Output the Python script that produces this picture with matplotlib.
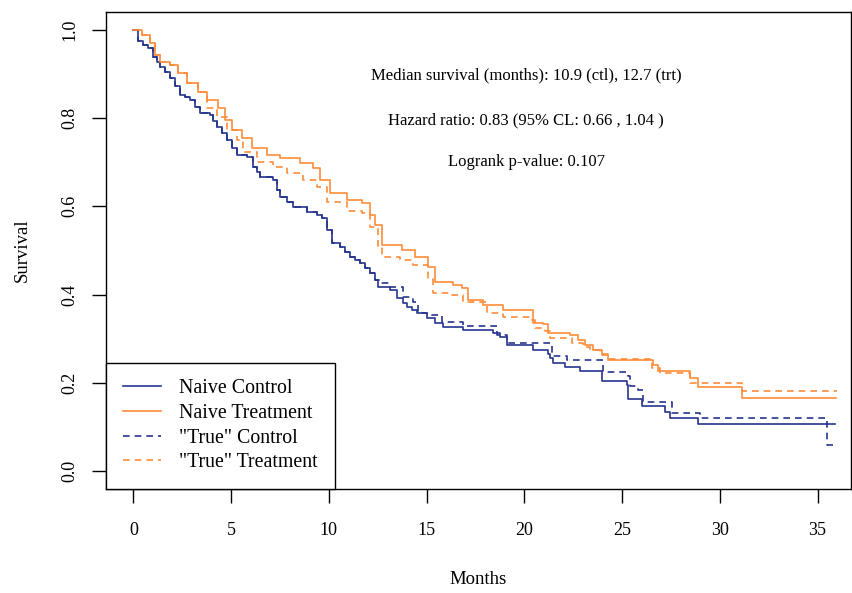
import matplotlib
matplotlib.use("Agg")
import matplotlib.pyplot as plt

# ---- data (months, survival after each drop) ----
nc_t = [0.24, 0.50, 0.75, 1.00, 1.21, 1.37, 1.62, 1.88, 2.13, 2.39, 2.64, 2.90, 3.16, 3.41,
        3.92, 4.08, 4.28, 4.54, 4.79, 5.05, 5.30, 5.82, 6.12, 6.33, 6.48, 7.15, 7.35, 7.50,
        7.86, 8.17, 8.89, 9.40, 9.65, 9.91, 10.16, 10.57, 10.83, 11.08, 11.34, 11.60, 11.85,
        12.11, 12.36, 12.52, 13.13, 13.49, 13.79, 14.00, 14.26, 14.51, 15.02, 15.43, 15.84,
        16.86, 18.40, 18.76, 19.11, 20.45, 21.21, 21.31, 21.47, 22.08, 22.85, 23.97, 25.25,
        25.30, 26.02, 27.20, 27.45, 28.89]
nc_s = [0.974, 0.965, 0.958, 0.938, 0.927, 0.916, 0.904, 0.891, 0.873, 0.852, 0.848, 0.841,
        0.825, 0.811, 0.807, 0.793, 0.780, 0.766, 0.750, 0.732, 0.716, 0.712, 0.689, 0.678,
        0.667, 0.660, 0.637, 0.621, 0.610, 0.599, 0.587, 0.580, 0.574, 0.546, 0.517, 0.508,
        0.497, 0.485, 0.479, 0.472, 0.460, 0.449, 0.433, 0.417, 0.411, 0.393, 0.381, 0.372,
        0.365, 0.359, 0.347, 0.336, 0.327, 0.320, 0.313, 0.304, 0.286, 0.275, 0.266, 0.257,
        0.245, 0.236, 0.227, 0.205, 0.196, 0.164, 0.148, 0.135, 0.121, 0.107]
nc_end = 35.9

tc_t = [0.24, 0.50, 0.75, 1.00, 1.21, 1.37, 1.62, 1.88, 2.13, 2.39, 2.64, 2.90, 3.16, 3.41,
        3.92, 4.08, 4.28, 4.54, 4.79, 5.05, 5.30, 5.82, 6.12, 6.33, 6.48, 7.15, 7.35, 7.50,
        7.86, 8.17, 8.89, 9.40, 9.65, 9.91, 10.16, 10.57, 10.83, 11.08, 11.34, 11.60, 11.85,
        12.11, 12.36, 12.62, 13.13, 13.79, 14.31, 14.56, 15.02, 15.79, 16.86, 18.60, 19.11,
        21.40, 22.20, 24.00, 25.30, 25.40, 25.80, 26.05, 27.56, 29.00, 35.46]
tc_s = [0.974, 0.965, 0.958, 0.938, 0.927, 0.916, 0.904, 0.891, 0.873, 0.852, 0.848, 0.841,
        0.825, 0.811, 0.807, 0.793, 0.780, 0.766, 0.750, 0.732, 0.716, 0.712, 0.689, 0.678,
        0.667, 0.660, 0.637, 0.621, 0.610, 0.599, 0.587, 0.580, 0.574, 0.546, 0.517, 0.508,
        0.497, 0.485, 0.479, 0.472, 0.460, 0.449, 0.433, 0.427, 0.417, 0.395, 0.383, 0.359,
        0.354, 0.338, 0.329, 0.309, 0.291, 0.261, 0.252, 0.225, 0.216, 0.193, 0.184, 0.157,
        0.132, 0.121, 0.060]
tc_end = 35.9

nt_t = [0.45, 0.85, 1.11, 1.37, 1.88, 2.29, 2.75, 3.31, 3.77, 4.33, 4.69, 5.05, 5.56, 6.07,
        6.84, 7.50, 8.53, 9.19, 9.55, 10.06, 10.93, 11.70, 12.11, 12.36, 12.72, 13.74, 14.41,
        15.07, 15.43, 16.35, 16.80, 17.10, 17.89, 18.91, 20.45, 20.96, 21.21, 22.33, 22.74,
        23.10, 23.51, 23.97, 24.28, 26.58, 26.84, 28.48, 28.89, 31.14]
nt_s = [0.988, 0.970, 0.943, 0.927, 0.920, 0.902, 0.879, 0.859, 0.841, 0.823, 0.795, 0.773,
        0.755, 0.732, 0.716, 0.709, 0.698, 0.687, 0.660, 0.630, 0.614, 0.608, 0.580, 0.558,
        0.512, 0.501, 0.485, 0.463, 0.429, 0.422, 0.415, 0.388, 0.377, 0.365, 0.336, 0.334,
        0.313, 0.309, 0.297, 0.286, 0.275, 0.264, 0.252, 0.241, 0.227, 0.211, 0.191, 0.166]
nt_end = 35.95

tt_t = [0.45, 0.85, 1.11, 1.37, 1.88, 2.29, 2.75, 3.31, 3.77, 4.28, 4.79, 5.30, 5.61, 6.33,
        7.15, 7.86, 8.68, 9.40, 9.91, 10.93, 11.70, 12.11, 12.52, 12.72, 13.64, 14.31, 15.07,
        15.33, 16.20, 16.86, 18.09, 18.91, 20.39, 20.55, 21.06, 21.31, 22.44, 23.00, 23.36,
        23.87, 24.28, 26.53, 26.94, 28.48, 31.14]
tt_s = [0.988, 0.970, 0.943, 0.927, 0.920, 0.902, 0.879, 0.859, 0.823, 0.803, 0.773, 0.750,
        0.723, 0.700, 0.689, 0.676, 0.660, 0.644, 0.610, 0.590, 0.585, 0.553, 0.508, 0.485,
        0.479, 0.467, 0.438, 0.404, 0.399, 0.383, 0.359, 0.350, 0.343, 0.325, 0.318, 0.302,
        0.291, 0.282, 0.275, 0.266, 0.254, 0.234, 0.223, 0.200, 0.182]
tt_end = 36.0

labels = ["Naive Control", "Naive Treatment", '"True" Control', '"True" Treatment']
notes = ["Median survival (months): 10.9 (ctl), 12.7 (trt)",
         "Hazard ratio: 0.83 (95% CL: 0.66 , 1.04 )",
         "Logrank p-value: 0.107"]
xticks = [0, 5, 10, 15, 20, 25, 30, 35]
yticks = [0.0, 0.2, 0.4, 0.6, 0.8, 1.0]

BLUE = "#27358F"
ORANGE = "#FF8C3A"
DASH = (0, (4, 3))

plt.rcParams["font.family"] = ["Liberation Serif", "DejaVu Serif"]


def km(t, s, end):
    return [0] + t + [end], [1.0] + s + [s[-1]]


fig = plt.figure(figsize=(8.53, 5.93), dpi=100)
W, H = 853, 593
ax = fig.add_axes([106 / W, 1 - 489 / H, (851 - 106) / W, (489 - 12) / H])

for (t, s, end), col, ls, lab in [((nc_t, nc_s, nc_end), BLUE, "-", labels[0]),
                                  ((nt_t, nt_s, nt_end), ORANGE, "-", labels[1]),
                                  ((tc_t, tc_s, tc_end), BLUE, DASH, labels[2]),
                                  ((tt_t, tt_s, tt_end), ORANGE, DASH, labels[3])]:
    x, y = km(t, s, end)
    ax.step(x, y, where="post", color=col, linestyle=ls, linewidth=1.2, label=lab)

ax.set_xlim(-1.40, 36.71)
ax.set_ylim(-0.04, 1.04)
ax.set_xticks(xticks)
ax.set_xticklabels([str(v) for v in xticks])
ax.set_yticks(yticks)
ax.set_yticklabels(["%.1f" % v for v in yticks], rotation=90, va="center")
ax.tick_params(axis="both", labelsize=13, length=10, width=1)
ax.tick_params(axis="x", pad=14)
ax.tick_params(axis="y", pad=10)
for sp in ax.spines.values():
    sp.set_linewidth(1)

ax.set_xlabel("Months", fontsize=13.5, labelpad=23)
ax.set_ylabel("Survival", fontsize=13.5, labelpad=22)

for txt, yv in zip(notes, [0.897, 0.795, 0.700]):
    ax.text(20.1, yv, txt, ha="center", va="center", fontsize=12)

leg = ax.legend(loc="lower left", borderaxespad=0, fancybox=False, fontsize=14.3,
                edgecolor="black", framealpha=1, handlelength=1.9, handletextpad=0.95,
                labelspacing=0.28, borderpad=0.85)
leg.get_frame().set_linewidth(1)

fig.savefig("out.png", dpi=100)
